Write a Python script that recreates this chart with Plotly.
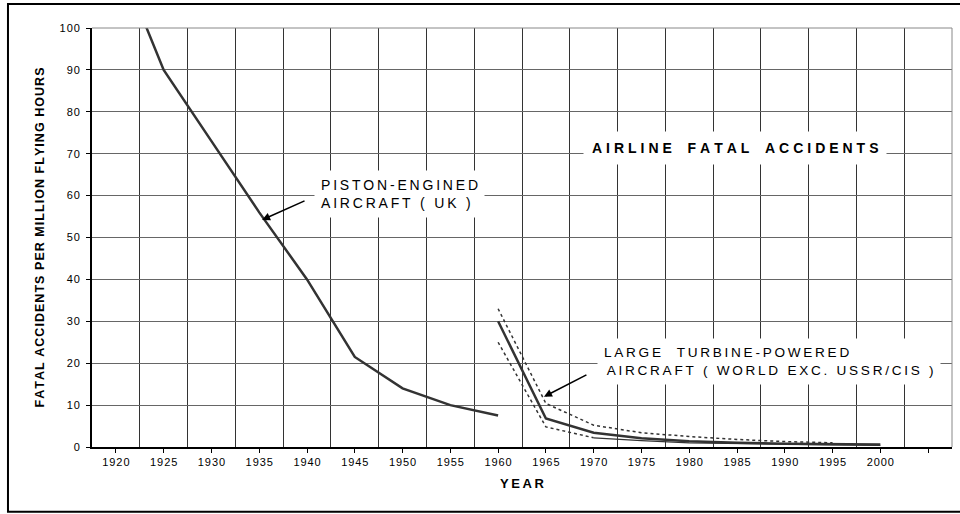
import plotly.graph_objects as go

# --- data -------------------------------------------------------------
piston_years = [1920, 1925, 1930, 1935, 1940, 1945, 1950, 1955, 1960]
piston_rate = [118, 90, 73, 56, 40, 21.5, 14, 10, 7.5]

turbine_years = [1960, 1965, 1970, 1975, 1980, 1985, 1990, 1995, 2000]
turbine_rate = [30, 6.8, 3.4, 2.1, 1.4, 1.0, 0.8, 0.7, 0.6]
turbine_upper = [33, 10.4, 5.2, 3.4, 2.5, 1.8, 1.3, 1.0]          # 1960-1995
turbine_lower = [25, 4.8, 2.2, 1.5, 1.0, 0.8, 0.6, 0.5, 0.4]      # 1960-2000

x_ticks = [1920, 1925, 1930, 1935, 1940, 1945, 1950, 1955, 1960, 1965,
           1970, 1975, 1980, 1985, 1990, 1995, 2000, 2005]
x_tick_labels = ["1920", "1925", "1930", "1935", "1940", "1945", "1950", "1955",
                 "1960", "1965", "1970", "1975", "1980", "1985", "1990", "1995",
                 "2000", ""]
y_ticks = [0, 10, 20, 30, 40, 50, 60, 70, 80, 90, 100]

FONT = "Arial, 'Liberation Sans', sans-serif"
INK = "#333333"


def spread(text, gap="\u2009", word_sep=None):
    """Letter-space a label; plain spaces become non-breaking so they don't collapse."""
    out = []
    for line in text.split("\n"):
        if word_sep is None:
            out.append(gap.join(ch if ch != " " else "\u00a0" for ch in line))
        else:
            out.append(word_sep.join(gap.join(w) for w in line.split(" ")))
    return "<br>".join(out)


fig = go.Figure()

# piston-engined aircraft (UK)
fig.add_trace(go.Scatter(x=piston_years, y=piston_rate, mode="lines",
                         line=dict(color=INK, width=2.5), hoverinfo="skip"))

# large turbine-powered aircraft: band edges and central line
fig.add_trace(go.Scatter(x=turbine_years[:len(turbine_upper)], y=turbine_upper, mode="lines",
                         line=dict(color=INK, width=1.5, dash="dot"), hoverinfo="skip"))
fig.add_trace(go.Scatter(x=turbine_years[:3], y=turbine_lower[:3], mode="lines",
                         line=dict(color=INK, width=1.5, dash="dot"), hoverinfo="skip"))
fig.add_trace(go.Scatter(x=turbine_years[2:], y=turbine_lower[2:], mode="lines",
                         line=dict(color=INK, width=1.2), hoverinfo="skip"))
fig.add_trace(go.Scatter(x=turbine_years, y=turbine_rate, mode="lines",
                         line=dict(color=INK, width=2.5), hoverinfo="skip"))

title_gap = "\u2009\u200a"
annotations = [
    # chart title inside the plot
    dict(x=1984.8, y=71.4, xref="x", yref="y", showarrow=False,
         text="<b>" + spread("AIRLINE FATAL ACCIDENTS", title_gap,
                             title_gap + "\u00a0\u00a0" + title_gap) + "</b>",
         font=dict(family=FONT, size=14, color="black"),
         bgcolor="white", borderpad=8),
    # series labels
    dict(x=1940.7, y=60.5, xref="x", yref="y", showarrow=False, align="left",
         xanchor="left",
         text=spread("PISTON-ENGINED\nAIRCRAFT ( UK )"),
         font=dict(family=FONT, size=14, color="black"),
         bgcolor="white", borderpad=6),
    dict(x=1970.3, y=20.4, xref="x", yref="y", showarrow=False, align="left",
         xanchor="left",
         text=spread("LARGE  TURBINE-POWERED") + "<br>\u2009"
              + spread("AIRCRAFT (\u00a0WORLD EXC.\u00a0USSR/CIS )"),
         font=dict(family=FONT, size=13.6, color="black"),
         bgcolor="white", borderpad=6),
    # pointer arrows
    dict(x=1935.3, y=54.2, ax=1939.9, ay=58.9, xref="x", yref="y", axref="x", ayref="y",
         text="", showarrow=True, arrowhead=2, arrowsize=1, arrowwidth=1.6, arrowcolor="black"),
    dict(x=1964.8, y=12.0, ax=1969.4, ay=17.4, xref="x", yref="y", axref="x", ayref="y",
         text="", showarrow=True, arrowhead=2, arrowsize=1, arrowwidth=1.6, arrowcolor="black"),
    # axis titles
    dict(x=-0.0616, y=0.5, xref="paper", yref="paper", showarrow=False, textangle=-90,
         xanchor="center", yanchor="middle",
         text="<b>" + spread("FATAL ACCIDENTS PER MILLION FLYING HOURS", "\u200a") + "</b>",
         font=dict(family=FONT, size=12.5, color="black")),
    dict(x=0.5, y=-0.0883, xref="paper", yref="paper", showarrow=False,
         xanchor="center", yanchor="middle",
         text="<b>" + spread("YEAR") + "</b>",
         font=dict(family=FONT, size=13, color="black")),
]

shapes = [
    # plot area top and right edges
    dict(type="line", xref="paper", yref="paper", x0=0, x1=1, y0=1, y1=1,
         line=dict(color="#888888", width=1)),
    dict(type="line", xref="paper", yref="paper", x0=1, x1=1, y0=0, y1=1,
         line=dict(color="#888888", width=1)),
    # outer chart frame
    dict(type="rect", xref="paper", yref="paper", x0=-0.0977, x1=1.05, y0=-0.1544, y1=1.0573,
         line=dict(color="black", width=2), fillcolor="rgba(0,0,0,0)"),
]

fig.update_layout(
    width=960, height=514,
    margin=dict(l=92, r=8, t=28, b=67),
    paper_bgcolor="white", plot_bgcolor="white",
    showlegend=False,
    annotations=annotations,
    shapes=shapes,
    font=dict(family=FONT, color="black"),
)

fig.update_xaxes(
    range=[1917.5, 2007.5],
    tickmode="array", tickvals=x_ticks,
    ticktext=[spread(t, "\u200a") for t in x_tick_labels],
    tickfont=dict(family=FONT, size=11, color="black"),
    ticks="outside", ticklen=4, tickcolor="black", tickwidth=1,
    showgrid=False, zeroline=False,
    showline=True, linecolor="black", linewidth=2,
    minor=dict(tick0=1922.5, dtick=5, showgrid=True, gridcolor="#333333", gridwidth=1, ticks=""),
)

fig.update_yaxes(
    range=[0, 100],
    tickmode="array", tickvals=y_ticks,
    ticktext=[spread(str(v), "\u200a") for v in y_ticks],
    tickfont=dict(family=FONT, size=11, color="black"),
    ticks="outside", ticklen=4, tickcolor="black", tickwidth=1,
    showgrid=True, gridcolor="#666666", gridwidth=1, zeroline=False,
    showline=True, linecolor="black", linewidth=2,
    ticklabelstandoff=4,
)

fig.write_html("out.html")
